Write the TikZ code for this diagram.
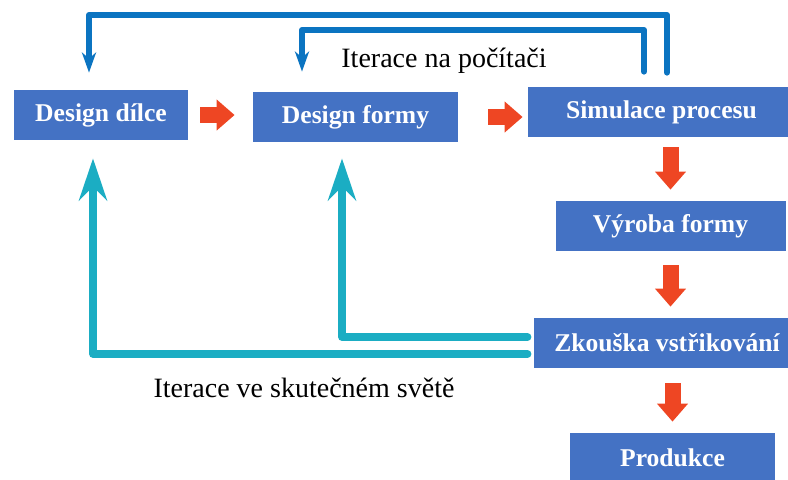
\documentclass[tikz,border=0pt]{standalone}
\usepackage{fontspec}
\setmainfont{Liberation Serif}
\usetikzlibrary{arrows.meta}

\definecolor{boxblue}{HTML}{4472C4}
\definecolor{flowred}{HTML}{EE4623}
\definecolor{loopblue}{HTML}{0B74C1}
\definecolor{loopteal}{HTML}{1BADC3}

\begin{document}
\begin{tikzpicture}[
  x=0.5pt, y=-0.5pt,
  box/.style={fill=boxblue, text=white, inner sep=0pt, minimum height=25pt,
              font=\fontsize{12.8}{15}\selectfont\bfseries},
  flow/.style={draw=flowred, line width=8pt,
               -{Triangle[length=9pt, width=15pt]}},
  pcloop/.style={draw=loopblue, line width=3pt, line cap=round, line join=round,
                 -{Stealth[length=10pt, width=7pt, inset=3pt]}},
  realloop/.style={draw=loopteal, line width=3.75pt, line cap=round, line join=round,
                   -{Stealth[length=21pt, width=14pt, inset=7pt]}},
  note/.style={font=\fontsize{14}{16}\selectfont}
]
\useasboundingbox (0,0) rectangle (788,479);

% ---- Top row ----
\node[box, minimum width=87pt] (dil) at (101,115) {Design dílce};
\node[box, minimum width=102.5pt] (frm) at (355.5,117) {Design formy};
\node[box, minimum width=133.5pt] (sim) at (661.5,112) {Simulace procesu};

% ---- Right column ----
\node[box, minimum width=115pt] (vyr) at (670.5,226) {Výroba formy};
\node[box, minimum width=133pt] (zk) at (667,343) {Zkouška vstřikování};
\node[box, minimum width=102.5pt] (pro) at (672.5,458) {Produkce};

% ---- Labels ----
\node[note] (pclabel) at (444,61) {Iterace na počítači};
\node[note] (rwlabel) at (304,388) {Iterace ve skutečném světě};

% ---- Main flow ----
\draw[flow, shorten <=6pt, shorten >=9pt] (dil.east) -- (dil.east -| frm.west);
\draw[flow, shorten <=15pt, shorten >=2.5pt] (frm.east) -- (frm.east -| sim.west);
\draw[flow, shorten <=5pt, shorten >=5.5pt] (sim.south -| vyr.north) -- (vyr.north);
\draw[flow, shorten <=7pt, shorten >=5.5pt] (vyr.south) -- (vyr.south |- zk.north);
\draw[flow, shorten <=7.5pt, shorten >=5.5pt] (pro.north |- zk.south) -- (pro.north);

% ---- Computer iterations ----
\coordinate (pcout) at (89,15);
\coordinate (pcin) at (302,30);
\draw[pcloop, shorten <=7pt, shorten >=8.5pt]
  ([xshift=2.75pt]sim.north) |- (pcout) -- (pcout |- dil.north);
\draw[pcloop, shorten <=7.5pt, shorten >=10pt]
  ([xshift=-8.75pt]sim.north) |- (pcin) -- (pcin |- frm.north);

% ---- Real-world iterations ----
\coordinate (rwout) at (93,354);
\coordinate (rwin) at (342,337);
\draw[realloop, shorten <=3pt, shorten >=9pt]
  (zk.west |- rwout) -- (rwout) -- (rwout |- dil.south);
\draw[realloop, shorten <=3pt, shorten >=8pt]
  (zk.west |- rwin) -- (rwin) -- (rwin |- frm.south);

\end{tikzpicture}
\end{document}
